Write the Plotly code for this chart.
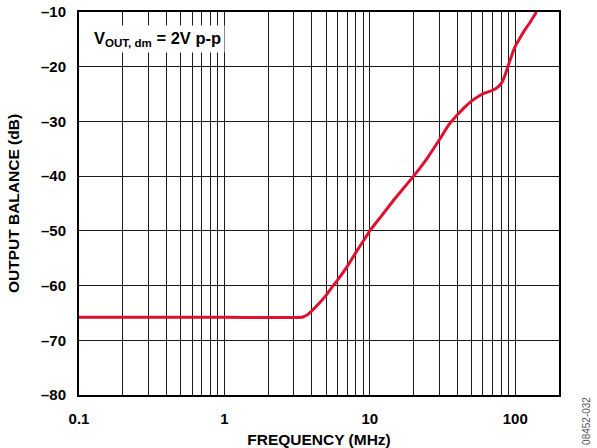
import plotly.graph_objects as go

freq_mhz = [0.1, 1.0, 3.4, 3.5, 3.7, 4.0, 4.5, 5.0, 5.5, 6.0, 7.0, 8.0, 9.0, 10.0, 12.0, 15.0,
            20.0, 25.0, 30.0, 35.0, 40.0, 45.0, 50.0, 56.0, 62.0, 70.0, 77.0, 82.0, 86.0,
            90.0, 95.0, 100.0, 107.0, 115.0, 125.0, 140.0]
balance_db = [-65.8, -65.8, -65.8, -65.7, -65.4, -64.6, -63.2, -61.8, -60.3, -59.0, -56.5,
              -54.0, -51.9, -50.0, -47.3, -44.0, -40.0, -36.6, -33.4, -30.6, -28.8, -27.4,
              -26.3, -25.4, -24.8, -24.3, -23.6, -22.6, -21.2, -19.6, -17.8, -16.3, -14.9,
              -13.5, -12.1, -10.0]

x_tickvals = [0.1, 1, 10, 100]
x_ticktext = ["0.1", "1", "10", "100"]
x_minor_vals = [0.2, 0.3, 0.4, 0.5, 0.6, 0.7, 0.8, 0.9,
                2, 3, 4, 5, 6, 7, 8, 9,
                20, 30, 40, 50, 60, 70, 80, 90]
y_tickvals = [-10, -20, -30, -40, -50, -60, -70, -80]
y_ticktext = ["–10", "–20", "–30", "–40", "–50", "–60", "–70", "–80"]

font_family = "Liberation Sans, Arial, sans-serif"

fig = go.Figure()
fig.add_trace(go.Scatter(
    x=freq_mhz, y=balance_db, mode="lines",
    line=dict(color="#e0102f", width=3, shape="spline", smoothing=0.5),
    showlegend=False, hoverinfo="skip",
))

fig.update_layout(
    width=597, height=448,
    margin=dict(l=79, r=38, t=12, b=53),
    paper_bgcolor="white", plot_bgcolor="white",
    font=dict(family=font_family, color="black", size=14),
    xaxis=dict(
        type="log", range=[-1, 2.30103], automargin=False,
        tickvals=x_tickvals, ticktext=x_ticktext, tickangle=0,
        showgrid=True, gridcolor="#1a1a1a", gridwidth=1,
        minor=dict(tickvals=x_minor_vals, showgrid=True, gridcolor="#1a1a1a",
                   gridwidth=1, ticks=""),
        showline=True, linecolor="black", linewidth=2, mirror=True,
        ticks="", ticklabelstandoff=9,
        tickfont=dict(family=font_family, size=15, color="black", weight="bold"),
        title=dict(text="<b>FREQUENCY (MHz)</b>", standoff=8,
                   font=dict(family=font_family, size=15.5, color="black")),
        zeroline=False,
    ),
    yaxis=dict(
        range=[-80, -10], automargin=False,
        tickvals=y_tickvals, ticktext=y_ticktext,
        showgrid=True, gridcolor="#1a1a1a", gridwidth=1,
        showline=True, linecolor="black", linewidth=2, mirror=True,
        ticks="", ticklabelstandoff=8,
        tickfont=dict(family=font_family, size=15, color="black", weight="bold"),
        title=dict(text="<b>OUTPUT BALANCE (dB)</b>", standoff=18,
                   font=dict(family=font_family, size=15.5, color="black")),
        zeroline=False,
    ),
    annotations=[
        dict(
            text="<b>V<sub>OUT, dm</sub> = 2V p-p</b>",
            xref="paper", yref="paper", x=0.022, y=0.93,
            xanchor="left", yanchor="middle", showarrow=False,
            bgcolor="white", borderpad=3,
            font=dict(family=font_family, size=16.5, color="black"),
        ),
        dict(
            text="08452-032",
            xref="paper", yref="paper", x=1.056, y=-0.068,
            xanchor="center", yanchor="middle", showarrow=False, textangle=-90,
            font=dict(family=font_family, size=10, color="#555555"),
        ),
    ],
)

fig.write_html("out.html", config={"displayModeBar": False},
               post_script="document.body.style.margin='0';")
